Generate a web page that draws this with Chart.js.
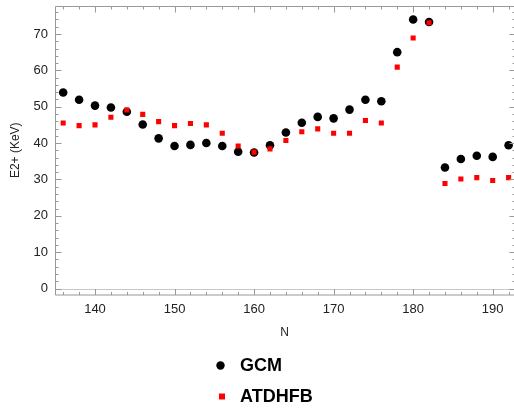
<!DOCTYPE html>
<html>
<head>
<meta charset="utf-8">
<script src="https://cdn.jsdelivr.net/npm/chart.js@4/dist/chart.umd.min.js"></script>
<style>
  html, body { margin: 0; padding: 0; background: #fff; }
  #wrap { width: 514px; height: 413px; position: relative; }
</style>
</head>
<body>
<div id="wrap"><canvas id="c" width="514" height="413"></canvas></div>
<script>
const neutronN = [136,138,140,142,144,146,148,150,152,154,156,158,160,162,164,166,168,170,172,174,176,178,180,182,184,186,188,190,192];
const gcmValues = [53.9,51.9,50.3,49.8,48.6,45.1,41.3,39.2,39.5,40.0,39.2,37.6,37.4,39.4,42.9,45.6,47.2,46.8,49.2,51.9,51.5,65.0,74.0,73.3,33.3,35.6,36.5,36.2,39.4];
const atdhfbValues = [45.5,44.8,45.0,47.1,49.1,47.9,45.9,44.8,45.4,45.0,42.7,39.2,37.5,38.4,40.7,43.1,43.9,42.7,42.7,46.2,45.5,60.9,68.9,73.1,28.9,30.1,30.5,29.7,30.5];
const xTickValues = [140,150,160,170,180,190];
const yTickValues = [0,10,20,30,40,50,60,70];
const seriesNames = ['GCM','ATDHFB'];

const toPoints = (vals) => neutronN.map((n, i) => ({x: n, y: vals[i]}));

const framePlugin = {
  id: 'frame',
  afterDatasetsDraw(chart) {
    const {ctx, chartArea: a, scales: {x, y}} = chart;
    ctx.save();
    ctx.strokeStyle = '#c8c8c8';
    ctx.lineWidth = 1;
    const y0 = Math.round(y.getPixelForValue(0)) + 0.5;
    ctx.beginPath(); ctx.moveTo(a.left, y0); ctx.lineTo(a.right + 2, y0); ctx.stroke();
    ctx.strokeStyle = '#999999';
    const L = a.left + 0.5, R = a.right + 1.5, T = a.top + 0.5, B = a.bottom + 0.5;
    ctx.beginPath();
    ctx.moveTo(L, T); ctx.lineTo(R, T);
    ctx.moveTo(L, T); ctx.lineTo(L, B);
    ctx.moveTo(L, B); ctx.lineTo(R, B);
    ctx.stroke();
    ctx.beginPath();
    for (let v = 136; v <= 192; v += 2) {
      const px = Math.round(x.getPixelForValue(v)) + 0.5;
      const len = (v % 10 === 0) ? 6 : 3;
      ctx.moveTo(px, B); ctx.lineTo(px, B - len);
      ctx.moveTo(px, T); ctx.lineTo(px, T + len);
    }
    for (let v = 0; v <= 76; v += 2) {
      const py = Math.round(y.getPixelForValue(v)) + 0.5;
      const len = (v % 10 === 0) ? 6 : 3;
      ctx.moveTo(L, py); ctx.lineTo(L + len, py);
      ctx.moveTo(R, py); ctx.lineTo(R - len, py);
    }
    ctx.stroke();
    ctx.restore();
  },
  afterDraw(chart) {
    const {ctx} = chart;
    const ds = chart.data.datasets;
    ctx.save();
    ctx.font = 'bold 18px "Liberation Sans", Arial, sans-serif';
    ctx.textBaseline = 'middle';
    const rows = [365.5, 396.5];
    const g = ds.find(d => d.label === seriesNames[0]);
    ctx.fillStyle = g.backgroundColor;
    ctx.beginPath(); ctx.arc(220.5, rows[0], 4.2, 0, Math.PI * 2); ctx.fill();
    ctx.fillStyle = '#000';
    ctx.fillText(seriesNames[0], 240, rows[0] + 1);
    const r = ds.find(d => d.label === seriesNames[1]);
    ctx.fillStyle = r.backgroundColor;
    ctx.fillRect(219, rows[1] - 3, 6, 6);
    ctx.fillStyle = '#000';
    ctx.fillText(seriesNames[1], 240, rows[1] + 1);
    ctx.restore();
  }
};

new Chart(document.getElementById('c'), {
  type: 'scatter',
  data: {
    datasets: [
      {
        label: seriesNames[0],
        data: toPoints(gcmValues),
        backgroundColor: '#000000',
        borderColor: '#000000',
        pointStyle: 'circle',
        pointRadius: 4.3,
        borderWidth: 0,
        order: 1
      },
      {
        label: seriesNames[1],
        data: toPoints(atdhfbValues),
        backgroundColor: '#ff0000',
        borderColor: '#ff0000',
        pointStyle: 'rect',
        pointRadius: 3.6,
        borderWidth: 0,
        order: 0
      }
    ]
  },
  options: {
    responsive: false,
    animation: false,
    layout: { autoPadding: false, padding: { top: 6, left: 0, right: 0, bottom: 0 } },
    plugins: { legend: { display: false }, tooltip: { enabled: false } },
    scales: {
      x: {
        type: 'linear',
        min: 134.97,
        max: 192.68,
        afterBuildTicks: (s) => { s.ticks = xTickValues.map(v => ({value: v})); },
        afterFit: (s) => { s.height = 118.5; s.paddingLeft = 0; s.paddingRight = 0; },
        grid: { display: false, drawTicks: false },
        border: { display: false },
        ticks: {
          padding: 7,
          color: '#222',
          font: { family: '"Liberation Sans", Arial, sans-serif', size: 13 },
          maxRotation: 0
        },
        title: {
          display: true,
          text: 'N',
          color: '#222',
          font: { family: '"Liberation Sans", Arial, sans-serif', size: 12 },
          padding: { top: 0, bottom: 72.8 }
        }
      },
      y: {
        type: 'linear',
        min: -1.65,
        max: 77.7,
        afterBuildTicks: (s) => { s.ticks = yTickValues.map(v => ({value: v})); },
        afterFit: (s) => { s.width = 55; s.paddingTop = 0; s.paddingBottom = 0; },
        grid: { display: false, drawTicks: false },
        border: { display: false },
        ticks: {
          padding: 7,
          color: '#222',
          font: { family: '"Liberation Sans", Arial, sans-serif', size: 13 }
        },
        title: {
          display: true,
          text: 'E2+ (KeV)',
          color: '#222',
          font: { family: '"Liberation Sans", Arial, sans-serif', size: 12 },
          padding: { top: 8.8, bottom: 0 }
        }
      }
    }
  },
  plugins: [framePlugin]
});
</script>
</body>
</html>
